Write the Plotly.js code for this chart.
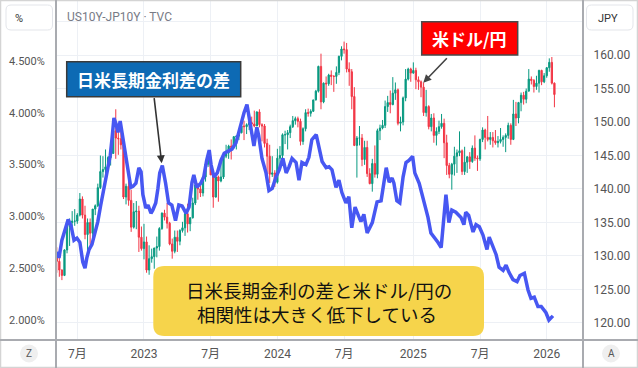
<!DOCTYPE html>
<html><head><meta charset="utf-8">
<script src="https://cdn.plot.ly/plotly-3.0.1.min.js"></script>
<style>html,body{margin:0;padding:0;background:#fff;overflow:hidden}#chart{width:638px;height:368px}</style>
</head><body><div id="chart"></div>
<script>
// ---- USD/JPY weekly candles (week starting 2022-05-09) ----
const weekStartUTC = Date.UTC(2022, 4, 9);
const firstOpen = 130.5;
const usdjpyClose = [
129.2,127.9,127.1,130.9,134.4,135.0,135.2,135.2,136.1,138.5,
136.1,133.2,135.0,133.4,137.0,137.5,140.2,142.6,142.9,143.3,
144.7,145.3,148.7,147.6,147.5,146.6,138.8,140.4,138.3,134.3,
136.6,136.7,132.8,131.1,
132.1,127.9,129.6,129.9,131.2,131.4,134.1,136.4,135.8,134.9,
131.8,130.7,132.8,132.2,133.8,134.2,136.3,134.8,135.7,137.9,
140.6,140.0,139.4,141.8,143.7,144.3,142.1,138.8,141.8,141.2,
141.8,144.9,145.4,146.4,146.2,147.8,147.9,148.4,149.4,149.3,
149.6,149.9,149.7,149.4,151.5,149.6,149.4,146.8,144.9,142.2,
142.4,141.0,
144.6,145.0,148.1,148.1,148.4,149.3,150.2,150.5,150.1,147.1,
149.0,151.4,151.3,151.6,153.3,154.6,158.3,153.0,155.8,155.7,
157.0,156.8,156.8,157.4,159.8,160.9,160.8,157.9,157.5,153.8,
146.5,147.6,147.6,144.4,146.2,142.3,140.8,143.8,142.2,148.7,
149.1,149.5,152.3,152.9,152.6,154.3,154.8,149.8,150.0,153.6,
156.4,157.9,157.3,
157.7,156.3,156.0,155.2,151.4,152.3,149.3,150.6,148.0,148.6,
149.3,149.8,146.9,143.5,142.2,143.7,144.9,145.4,145.7,142.6,
144.0,144.8,144.1,146.1,144.6,144.5,147.4,148.8,147.7,147.4,
147.7,147.2,146.9,147.1,147.4,147.7,148.0,149.5,147.4,151.2,
150.6,152.9,154.0,153.4,154.6,156.4,156.2,155.3,155.8,157.7,
156.0,156.9,
158.1,158.9,155.8,154.1];
const usdjpyHigh = [
131.3,129.8,128.0,131.0,134.6,135.6,136.7,137.0,136.4,139.4,
138.9,137.5,135.6,135.6,137.0,137.7,140.8,145.0,144.9,145.9,
144.9,145.4,148.9,151.9,149.7,148.8,146.8,140.8,142.3,139.9,
137.9,138.2,137.5,134.4,
134.8,132.9,131.6,131.1,131.2,132.9,134.3,136.5,136.9,137.9,
135.1,132.6,133.8,133.8,134.0,135.1,136.6,137.8,135.8,138.7,
140.9,140.9,140.5,141.9,143.9,145.1,144.9,142.5,142.0,142.0,
143.9,145.0,146.6,146.6,147.4,147.9,147.9,148.5,149.7,150.2,
149.8,150.0,150.8,151.7,151.6,151.9,149.8,149.7,147.5,146.6,
144.9,142.8,
146.0,146.4,148.3,148.7,148.8,149.6,150.9,150.8,150.8,150.5,
149.2,151.9,152.0,151.9,153.3,154.8,158.4,160.2,155.9,156.8,
157.2,157.7,157.0,158.3,159.9,161.3,162.0,161.8,158.9,157.9,
155.2,147.9,149.4,148.2,147.2,147.2,143.1,144.5,146.5,149.0,
149.6,150.3,153.2,153.9,154.7,156.7,155.9,155.0,150.8,153.8,
157.9,158.1,158.1,
158.9,158.1,156.8,156.2,155.9,154.8,152.5,151.2,151.3,149.2,
150.2,151.2,150.5,148.1,143.9,143.9,146.3,145.9,148.6,145.9,
146.3,144.9,145.5,146.5,148.0,145.0,147.5,149.2,149.0,150.9,
148.5,148.5,148.8,147.9,149.1,148.0,148.3,149.9,149.8,153.3,
153.0,153.0,154.4,154.5,155.0,157.9,156.8,156.4,156.9,157.8,
157.8,157.3,
158.2,159.5,159.7,155.9];
const usdjpyLow = [
127.5,126.9,126.4,127.0,130.4,131.5,134.3,134.5,134.8,135.9,
135.6,132.5,130.4,131.7,132.6,136.1,137.3,140.0,141.7,140.3,
143.3,143.5,145.3,144.5,145.1,145.9,138.5,137.7,137.5,133.6,
134.1,134.0,130.6,130.8,
129.5,127.5,127.2,129.0,128.1,129.8,130.8,133.9,135.3,134.1,
131.6,129.6,130.4,130.6,131.6,133.5,133.0,133.5,133.7,135.6,
137.6,138.4,138.8,138.9,141.1,143.3,142.1,137.2,138.7,138.1,
141.0,141.5,144.6,144.5,144.4,146.0,145.9,147.3,148.3,147.3,
148.2,148.8,149.3,149.2,149.4,149.2,147.1,146.2,141.6,140.9,
141.8,140.3,
140.8,143.4,144.3,146.7,145.9,147.6,149.1,149.6,149.2,146.5,
146.6,148.6,150.8,150.8,151.5,153.2,154.4,151.9,152.8,153.6,
155.4,155.5,154.5,155.7,157.0,159.2,160.2,157.4,155.4,151.9,
146.4,141.7,146.5,143.4,143.6,141.8,140.7,139.6,141.7,141.6,
147.3,148.9,149.1,151.5,151.3,152.5,153.3,149.5,148.6,149.5,
153.1,156.2,156.0,
157.2,154.9,154.8,153.7,150.9,150.8,148.9,148.6,146.9,146.5,
148.2,149.0,144.6,142.1,141.6,139.9,142.0,142.4,144.9,142.1,
142.1,142.4,143.0,143.9,144.2,142.7,144.2,147.0,145.9,147.1,
146.6,146.2,146.6,146.2,146.8,146.3,145.5,147.5,146.6,147.3,
149.4,149.8,151.6,152.6,152.8,154.6,155.6,154.4,154.8,154.4,
155.5,155.8,
156.6,157.5,155.6,152.2];

// ---- US10Y - JP10Y spread (%) ----
const spreadDates = [
'2022-05-10','2022-05-15','2022-05-23','2022-06-01','2022-06-09','2022-06-17','2022-06-25','2022-07-03','2022-07-11','2022-07-19',
'2022-07-25','2022-07-30','2022-08-05','2022-08-13','2022-08-21','2022-08-29','2022-09-06','2022-09-14','2022-09-22','2022-10-02',
'2022-10-07','2022-10-12','2022-10-18','2022-10-23','2022-10-29','2022-11-03','2022-11-09','2022-11-14','2022-11-22','2022-11-27',
'2022-12-03','2022-12-11','2022-12-19','2022-12-25','2022-12-30','2023-01-07','2023-01-13','2023-01-21','2023-01-26','2023-02-03',
'2023-02-09','2023-02-14','2023-02-21','2023-02-25','2023-03-02','2023-03-10','2023-03-19','2023-03-29','2023-04-07','2023-04-16',
'2023-04-27','2023-05-05','2023-05-13','2023-05-18','2023-05-26','2023-06-06','2023-06-14','2023-06-22','2023-06-29','2023-07-04',
'2023-07-12','2023-07-21','2023-07-31','2023-08-09','2023-08-19','2023-08-30','2023-09-10','2023-09-18','2023-09-24','2023-10-02',
'2023-10-10','2023-10-15','2023-10-21','2023-10-29','2023-11-06','2023-11-11','2023-11-20','2023-12-01','2023-12-09','2023-12-18',
'2023-12-28','2024-01-06','2024-01-16','2024-01-25','2024-02-02','2024-02-10','2024-02-21','2024-02-29','2024-03-08','2024-03-19',
'2024-03-27','2024-04-04','2024-04-16','2024-04-24','2024-05-02','2024-05-13','2024-05-21','2024-05-29','2024-06-09','2024-06-17',
'2024-06-25','2024-07-06','2024-07-14','2024-07-22','2024-07-31','2024-08-10','2024-08-16','2024-08-24','2024-09-02','2024-09-16',
'2024-09-29','2024-10-10','2024-10-24','2024-11-01','2024-11-09','2024-11-14','2024-11-22','2024-11-30','2024-12-09','2024-12-17',
'2024-12-25','2025-01-04','2025-01-10','2025-01-22','2025-02-05','2025-02-15','2025-02-23','2025-03-04','2025-03-14','2025-03-23',
'2025-03-28','2025-04-05','2025-04-13','2025-04-21','2025-05-02','2025-05-16','2025-05-24','2025-05-29','2025-06-06','2025-06-18',
'2025-06-26','2025-07-05','2025-07-15','2025-07-26','2025-08-01','2025-08-11','2025-08-20','2025-08-28','2025-09-08','2025-09-16',
'2025-09-24','2025-10-05','2025-10-16','2025-10-24','2025-11-05','2025-11-15','2025-11-23','2025-12-02','2025-12-12','2025-12-21',
'2026-01-03','2026-01-11','2026-01-22'];
const spreadValues = [
2.66,2.60,2.77,2.89,2.97,2.91,2.77,2.79,2.75,2.56,
2.50,2.60,2.68,2.73,2.85,2.95,3.11,3.27,3.43,3.59,
3.76,3.95,3.89,3.81,3.92,3.80,3.69,3.57,3.35,3.28,
3.29,3.32,3.47,3.43,3.21,3.08,3.11,3.03,3.06,3.13,
3.27,3.42,3.49,3.43,3.32,3.13,3.11,2.96,3.11,3.10,
3.03,3.09,3.33,3.40,3.28,3.32,3.38,3.54,3.64,3.50,
3.38,3.42,3.54,3.61,3.63,3.65,3.71,3.82,3.91,4.00,
4.08,3.98,3.88,3.68,3.86,3.78,3.56,3.42,3.25,3.27,
3.38,3.45,3.56,3.42,3.48,3.56,3.52,3.35,3.52,3.50,
3.57,3.74,3.79,3.67,3.53,3.47,3.48,3.45,3.28,3.35,
3.23,3.13,3.19,2.89,3.09,3.00,2.95,3.02,2.84,2.94,
3.14,3.15,3.47,3.33,3.37,3.32,3.15,3.13,3.38,3.52,
3.54,3.58,3.42,3.32,3.13,2.99,2.84,2.80,2.75,2.70,
2.90,3.21,2.94,3.06,3.04,2.99,2.92,3.04,3.01,2.85,
2.92,2.90,2.82,2.68,2.80,2.70,2.63,2.51,2.48,2.53,
2.46,2.39,2.37,2.43,2.45,2.29,2.21,2.22,2.13,2.13,
2.07,2.00,2.04];

// ---- axis ticks ----
const xTickDates = ['2022-07-04','2023-01-02','2023-07-03','2024-01-01','2024-07-01','2025-01-06','2025-07-07','2026-01-05'];
const xTickLabels = ['7月','2023','7月','2024','7月','2025','7月','2026'];
const leftTickVals = [2.0,2.5,3.0,3.5,4.0,4.5];
const leftTickText = ['2.000%','2.500%','3.000%','3.500%','4.000%','4.500%'];
const rightTickVals = [120,125,130,135,140,145,150,155,160,165];
const rightTickText = ['120.00','125.00','130.00','135.00','140.00','145.00','150.00','155.00','160.00',''];

// ---- derived ----
const weekDates = usdjpyClose.map((_, i) => new Date(weekStartUTC + i * 7 * 86400000).toISOString().slice(0, 10));
const usdjpyOpen = usdjpyClose.map((c, i) => i === 0 ? firstOpen : usdjpyClose[i - 1]);

// ---- layout helpers (pixel -> paper for decorations) ----
const W = 638, H = 368, ML = 56, MR = 55, MT = 1, MB = 28;
const PW = W - ML - MR, PH = H - MT - MB;
const px = x => (x - ML) / PW;
const py = y => (H - MB - y) / PH;
function rr(x0, y0, x1, y1, r) {
  const X = px, Y = py;
  return `M${X(x0+r)},${Y(y0)} L${X(x1-r)},${Y(y0)} Q${X(x1)},${Y(y0)} ${X(x1)},${Y(y0+r)} ` +
         `L${X(x1)},${Y(y1-r)} Q${X(x1)},${Y(y1)} ${X(x1-r)},${Y(y1)} L${X(x0+r)},${Y(y1)} ` +
         `Q${X(x0)},${Y(y1)} ${X(x0)},${Y(y1-r)} L${X(x0)},${Y(y0+r)} Q${X(x0)},${Y(y0)} ${X(x0+r)},${Y(y0)} Z`;
}
const P = {xref: 'paper', yref: 'paper'};
const FONT = 'Roboto, "Noto Sans CJK JP", sans-serif';
const JP = '"Noto Sans CJK JP", sans-serif';
const gridC = '#edf0f5';
const sepC = '#a9abb0';

const shapes = [
  Object.assign({type: 'rect', x0: px(0.5), x1: px(637.5), y0: py(367.5), y1: py(0.5), line: {color: '#d4d4d4', width: 1.5}, fillcolor: 'rgba(0,0,0,0)', layer: 'above'}, P),
  Object.assign({type: 'line', x0: px(56), x1: px(56), y0: py(0), y1: py(368), line: {color: sepC, width: 2}, layer: 'above'}, P),
  Object.assign({type: 'line', x0: px(583), x1: px(583), y0: py(0), y1: py(368), line: {color: sepC, width: 2}, layer: 'above'}, P),
  Object.assign({type: 'line', x0: px(0), x1: px(638), y0: py(340), y1: py(340), line: {color: sepC, width: 2}, layer: 'above'}, P),
  Object.assign({type: 'path', path: rr(6, 5, 52.5, 30, 5), fillcolor: '#ffffff', line: {color: '#e3e5ea', width: 1}, layer: 'above'}, P),
  Object.assign({type: 'path', path: rr(586.5, 5, 633, 30, 5), fillcolor: '#ffffff', line: {color: '#e3e5ea', width: 1}, layer: 'above'}, P),
  Object.assign({type: 'circle', x0: px(20), x1: px(38), y0: py(362.5), y1: py(344.5), fillcolor: '#efefef', line: {width: 0}, layer: 'above'}, P),
  Object.assign({type: 'circle', x0: px(602), x1: px(620), y0: py(362.5), y1: py(344.5), fillcolor: '#efefef', line: {width: 0}, layer: 'above'}, P),
  Object.assign({type: 'rect', x0: px(66.7), x1: px(240.7), y0: py(96.7), y1: py(61.7), fillcolor: '#0d6ab4', line: {color: '#3a3a3a', width: 1.5}, layer: 'above'}, P),
  Object.assign({type: 'rect', x0: px(421.7), x1: px(517.7), y0: py(55), y1: py(21.7), fillcolor: '#ff0000', line: {color: '#4a4a4a', width: 1.5}, layer: 'above'}, P),
  Object.assign({type: 'path', path: rr(153.3, 266, 484, 336, 11), fillcolor: '#f6d44b', line: {width: 0}, layer: 'above'}, P)
];

const annotations = [
  Object.assign({x: px(65), y: py(17), xanchor: 'left', yanchor: 'middle', showarrow: false, text: 'US10Y-JP10Y · TVC', font: {family: FONT, size: 12, color: '#787b86'}}, P),
  Object.assign({x: px(12.5), y: py(18), xanchor: 'left', yanchor: 'middle', showarrow: false, text: '%', font: {family: FONT, size: 11, color: '#333'}}, P),
  Object.assign({x: px(596), y: py(18), xanchor: 'left', yanchor: 'middle', showarrow: false, text: 'JPY', font: {family: FONT, size: 11, color: '#333'}}, P),
  Object.assign({x: px(29), y: py(353.5), xanchor: 'center', yanchor: 'middle', showarrow: false, text: 'Z', font: {family: FONT, size: 10, color: '#555'}}, P),
  Object.assign({x: px(611), y: py(353.5), xanchor: 'center', yanchor: 'middle', showarrow: false, text: 'A', font: {family: FONT, size: 10, color: '#555'}}, P),
  Object.assign({x: px(153.7), y: py(79.2), xanchor: 'center', yanchor: 'middle', showarrow: false, text: '日米長期金利差の差', font: {family: JP, size: 17, color: '#ffffff', weight: 700}}, P),
  Object.assign({x: px(469.7), y: py(38.3), xanchor: 'center', yanchor: 'middle', showarrow: false, text: '米ドル/円', font: {family: JP, size: 17, color: '#ffffff', weight: 700}}, P),
  Object.assign({x: px(161.7), y: py(163.3), ax: 154 - 161.7, ay: 96.7 - 163.3, text: '', showarrow: true, arrowhead: 2, arrowsize: 1, arrowwidth: 1.6, arrowcolor: '#333'}, P),
  Object.assign({x: px(423.3), y: py(82.7), ax: 448.3 - 423.3, ay: 56.7 - 82.7, text: '', showarrow: true, arrowhead: 2, arrowsize: 1, arrowwidth: 1.6, arrowcolor: '#444'}, P),
  Object.assign({x: px(319.2), y: py(289.5), xanchor: 'center', yanchor: 'middle', showarrow: false, borderpad: 0,
    text: '日米長期金利の差と米ドル/円の', font: {family: JP, size: 18.5, color: '#111'}}, P),
  Object.assign({x: px(316.7), y: py(313.8), xanchor: 'center', yanchor: 'middle', showarrow: false, borderpad: 0,
    text: '相関性は大きく低下している', font: {family: JP, size: 18.5, color: '#111'}}, P)
];

const traces = [
  {type: 'candlestick', x: weekDates, open: usdjpyOpen, high: usdjpyHigh, low: usdjpyLow, close: usdjpyClose,
   xaxis: 'x', yaxis: 'y', whiskerwidth: 0, line: {width: 1},
   increasing: {line: {color: '#089981', width: 1}, fillcolor: '#089981'},
   decreasing: {line: {color: '#f23645', width: 1}, fillcolor: '#f23645'},
   hoverinfo: 'skip'},
  {type: 'scatter', mode: 'lines', x: spreadDates, y: spreadValues, xaxis: 'x', yaxis: 'y2',
   line: {color: '#4757f2', width: 3.5}, hoverinfo: 'skip'}
];

const layout = {
  width: W, height: H,
  margin: {l: ML, r: MR, t: MT, b: MB, pad: 0},
  paper_bgcolor: '#ffffff', plot_bgcolor: '#ffffff',
  showlegend: false,
  xaxis: {type: 'date', range: ['2022-05-06 21:00', '2026-04-14'], tickmode: 'array', tickvals: xTickDates, ticktext: xTickLabels,
    showgrid: true, gridcolor: gridC, gridwidth: 1, ticks: 'outside', ticklen: 3, tickcolor: 'rgba(0,0,0,0)',
    tickfont: {family: FONT, size: 12, color: '#555'}, zeroline: false, showline: false, rangeslider: {visible: false}, fixedrange: true},
  yaxis: {side: 'right', range: [117.46, 168.06], tickmode: 'array', tickvals: rightTickVals, ticktext: rightTickText,
    showgrid: true, gridcolor: gridC, gridwidth: 1, ticks: 'outside', ticklen: 7, tickcolor: 'rgba(0,0,0,0)',
    tickfont: {family: FONT, size: 12, color: '#555'}, zeroline: false, showline: false, fixedrange: true},
  yaxis2: {overlaying: 'y', side: 'left', range: [1.807, 5.079], tickmode: 'array', tickvals: leftTickVals, ticktext: leftTickText,
    showgrid: false, ticks: 'outside', ticklen: 8, tickcolor: 'rgba(0,0,0,0)',
    tickfont: {family: FONT, size: 11, color: '#555'}, zeroline: false, showline: false, fixedrange: true},
  shapes: shapes,
  annotations: annotations
};

Plotly.newPlot('chart', traces, layout, {staticPlot: true, displayModeBar: false});
</script>
</body></html>
